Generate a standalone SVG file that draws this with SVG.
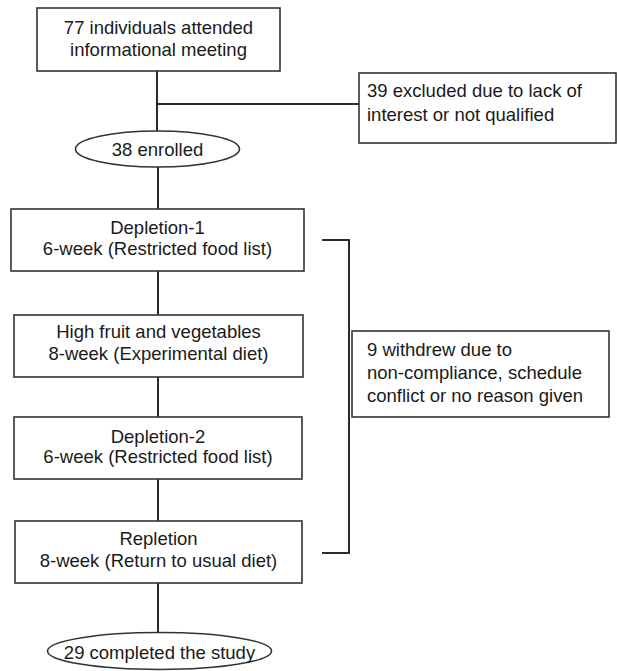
<svg xmlns="http://www.w3.org/2000/svg" width="617" height="671" viewBox="0 0 617 671">
<style>
.box{fill:#fff;stroke:#333;stroke-width:1.6}
.ln{fill:none;stroke:#2a2a2a;stroke-width:2}
text{font-family:"Liberation Sans",Arial,sans-serif;font-size:18.5px;fill:#1a1a1a}
.c{text-anchor:middle}
</style>
<rect width="617" height="671" fill="#fff"/>
<g id="connectors">
<line class="ln" x1="157" y1="71" x2="157" y2="131"/>
<line class="ln" x1="157" y1="104" x2="359" y2="104"/>
<line class="ln" x1="158" y1="167" x2="158" y2="209"/>
<line class="ln" x1="158" y1="271" x2="158" y2="315"/>
<line class="ln" x1="158" y1="377" x2="158" y2="417"/>
<line class="ln" x1="158" y1="479" x2="158" y2="521"/>
<line class="ln" x1="158" y1="583" x2="158" y2="632"/>
<polyline class="ln" points="322,240 349,240 349,553 322,553"/>
</g>
<g id="n1">
<rect class="box" x="37" y="8" width="243" height="63"/>
<text class="c" x="158.5" y="34">77 individuals attended</text>
<text class="c" x="158.5" y="56">informational meeting</text>
</g>
<g id="n2">
<rect class="box" x="359" y="73" width="257" height="70"/>
<text x="367" y="97">39 excluded due to lack of</text>
<text x="367" y="121">interest or not qualified</text>
</g>
<g id="n3">
<ellipse class="box" cx="157.5" cy="149" rx="82" ry="18"/>
<text class="c" x="157.5" y="156">38 enrolled</text>
</g>
<g id="n4">
<rect class="box" x="11" y="209" width="293" height="62"/>
<text class="c" x="157.5" y="234">Depletion-1</text>
<text class="c" x="157.5" y="255">6-week (Restricted food list)</text>
</g>
<g id="n5">
<rect class="box" x="14" y="315" width="289" height="62"/>
<text class="c" x="158.5" y="338">High fruit and vegetables</text>
<text class="c" x="158.5" y="360">8-week (Experimental diet)</text>
</g>
<g id="n6">
<rect class="box" x="14" y="417" width="288" height="62"/>
<text class="c" x="158" y="443">Depletion-2</text>
<text class="c" x="158" y="463">6-week (Restricted food list)</text>
</g>
<g id="n7">
<rect class="box" x="15" y="521" width="287" height="62"/>
<text class="c" x="158.5" y="545">Repletion</text>
<text class="c" x="158.5" y="567">8-week (Return to usual diet)</text>
</g>
<g id="n8">
<rect class="box" x="352" y="331" width="257" height="86"/>
<text x="367" y="356">9 withdrew due to</text>
<text x="367" y="379">non-compliance, schedule</text>
<text x="367" y="402">conflict or no reason given</text>
</g>
<g id="n9">
<ellipse class="box" cx="159.5" cy="651" rx="112" ry="18.5"/>
<text class="c" x="159.5" y="659">29 completed the study</text>
</g>
</svg>
